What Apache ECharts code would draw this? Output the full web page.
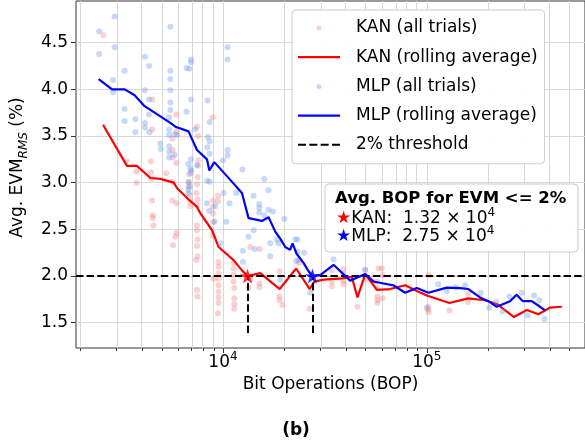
<!DOCTYPE html>
<html>
<head>
<meta charset="utf-8">
<script src="https://cdn.jsdelivr.net/npm/echarts@6/dist/echarts.min.js"></script>
<style>
  html, body { margin: 0; padding: 0; background: #fff; }
  #chart { width: 585px; height: 444px; }
</style>
</head>
<body>
<div id="chart"></div>
<script>
// KAN trials (BOP, avg EVM %)
var kanTrialBop = [2590, 3360, 3760, 3770, 4440, 4440, 4500, 4490, 4430, 4500, 4530, 4530, 4560,
  5260, 5660, 5660, 5660, 5660, 5640, 5900, 5900, 5900, 5920, 5920, 5850, 5690,
  6810, 6810, 6780, 6860, 6920, 6920, 7440, 7540, 7560, 7540, 7510, 7460, 7420, 7510, 7460, 7460, 7460, 7510, 7460, 7510, 7400, 7460, 7510,
  8910, 8930, 8930, 8930, 8960, 8890, 9000, 9450, 9450, 9510, 9510, 9510, 9510, 9510, 9510, 9510, 9510, 9450,
  11270, 11270, 11270, 11270, 11360, 11360, 11360, 11360, 13600, 13350, 13610, 15120, 15120, 15120,
  18940, 18940, 18940, 19600, 23570, 26550, 34200, 34200, 34200, 39010, 39010, 39010, 39010, 45690, 49860, 50430,
  56930, 56930, 57290, 57290, 57290, 57970, 60200, 60640, 60640, 101800, 101800, 101800, 101800, 129100, 159400, 158700];
var kanTrialEvm = [4.58, 3.23, 3.12, 3.00, 3.11, 3.04, 3.89, 3.57, 3.23, 2.81, 2.65, 2.62, 2.54,
  3.10, 3.47, 3.35, 3.27, 3.01, 2.81, 3.73, 3.55, 3.21, 2.78, 2.46, 2.42, 2.33,
  3.09, 3.00, 2.96, 2.87, 2.80, 2.75, 3.60, 3.50, 3.24, 3.18, 3.06, 2.98, 2.89, 2.82, 2.76, 2.54, 2.49, 2.39, 2.32, 2.21, 2.17, 1.85, 1.78,
  3.70, 2.81, 2.74, 2.67, 2.58, 2.43, 1.97, 2.86, 2.80, 2.15, 2.10, 2.03, 1.97, 1.90, 1.83, 1.77, 1.71, 1.60,
  2.14, 2.08, 2.01, 1.94, 1.87, 1.76, 1.70, 1.65, 2.31, 1.87, 1.96, 2.29, 1.92, 1.88,
  2.05, 1.78, 1.74, 1.69, 2.14, 1.65, 2.06, 1.94, 1.89, 2.07, 2.02, 1.95, 1.91, 1.67, 2.06, 1.97,
  1.94, 1.87, 1.78, 1.74, 1.71, 2.08, 2.08, 2.01, 1.76, 2.01, 1.67, 1.64, 1.61, 1.63, 1.81, 1.72];

// MLP trials
var mlpTrialBop = [2470, 2470, 2940, 2940, 2890, 2890, 3290, 3290, 3290, 3720, 3720,
  4140, 4140, 4140, 4140, 4340, 4340, 4340, 4350, 4930, 4960,
  5520, 5520, 5520, 5520, 5520, 5520, 5450, 5450, 5450, 5450, 5450, 5450, 5790, 5790, 5960,
  6630, 6970, 6970, 6840, 6970, 6630, 7320, 6780, 6920, 6970, 7460, 6970, 6970, 6780, 6860, 6780, 6780,
  8400, 8600, 8440, 8600, 8380, 8600, 8380, 8600, 8350, 8570, 9170, 9100,
  10530, 10530, 10000, 10530, 10530, 10070, 10770, 10380, 9700, 11620, 12470,
  14120, 15060, 15060, 15060, 15940, 15940, 16730, 16730, 14150, 13350, 12530, 12530, 14320,
  17050, 17050, 17570, 19980, 18740, 18400, 23200, 23200, 25040, 22860, 19100, 26800, 23500, 22600,
  34850, 49860, 100000, 113600, 125300, 138800, 154100, 183800, 202000, 218700, 235300, 254100,
  292300, 311200, 335700, 356500, 377200];
var mlpTrialEvm = [4.62, 4.38, 4.78, 4.45, 4.10, 3.97, 4.20, 3.79, 3.66, 3.68, 3.54,
  4.35, 3.99, 3.64, 3.59, 4.25, 3.89, 3.73, 3.54, 3.42, 3.36,
  4.67, 4.20, 4.11, 3.99, 3.86, 3.78, 3.70, 3.57, 3.51, 3.39, 3.33, 3.27, 3.30, 3.52, 3.51,
  4.23, 4.32, 4.29, 4.22, 3.89, 3.76, 3.57, 3.20, 3.15, 3.25, 3.19, 3.13, 3.10, 3.01, 2.96, 2.93, 2.89,
  3.88, 3.65, 3.49, 3.44, 3.38, 3.31, 3.02, 3.01, 2.78, 2.70, 2.75, 2.58,
  4.45, 4.32, 3.24, 3.35, 3.29, 2.89, 2.78, 2.58, 2.35, 2.89, 3.14,
  2.86, 2.77, 2.73, 2.68, 3.04, 2.65, 2.92, 2.71, 2.49, 2.42, 2.27, 2.15, 2.29,
  2.21, 2.35, 2.69, 2.61, 2.35, 2.39, 2.39, 2.26, 2.25, 2.16, 1.96, 1.82, 2.17, 2.39,
  2.18, 2.07, 1.66, 1.91, 1.84, 1.88, 1.90, 1.82, 1.66, 1.72, 1.62, 1.78,
  1.82, 1.58, 1.79, 1.74, 1.54];

// rolling averages
var kanAvgBop = [2580, 3380, 3780, 4410, 4930, 5730, 5960, 6780, 7460, 7750, 8840, 9520, 11270, 12390, 13200,
  15240, 18980, 22850, 26650, 28050, 31100, 38450, 42860, 45690, 49860, 56930, 66130, 78270, 89240,
  100000, 129100, 159400, 192900, 220300, 267800, 309300, 352500, 401200, 459200];
var kanAvgEvm = [3.62, 3.18, 3.18, 3.05, 3.04, 3.00, 2.94, 2.82, 2.74, 2.67, 2.49, 2.31, 2.17, 2.06, 2.00,
  2.03, 1.86, 2.08, 1.86, 1.94, 1.96, 1.975, 1.99, 1.77, 2.02, 1.85, 1.86, 1.90, 1.84,
  1.79, 1.71, 1.76, 1.74, 1.70, 1.56, 1.635, 1.59, 1.66, 1.67];
var mlpAvgBop = [2455, 2858, 3294, 3674, 4127, 4930, 5516, 5840, 6780, 7455, 8349, 8570, 9065, 10860, 12390,
  13350, 15530, 16740, 18050, 19100, 20200, 21350, 21950, 22950, 24840, 26300, 27500, 29990, 34850,
  42050, 49860, 54840, 57970, 68500, 78270, 89240, 101800, 125300, 145600, 159900, 182400, 200400,
  220300, 256000, 276000, 295600, 327200, 359300, 380300];
var mlpAvgEvm = [4.11, 4.00, 4.00, 3.94, 3.82, 3.71, 3.64, 3.60, 3.55, 3.35, 3.25, 3.13, 3.22, 3.03, 2.89,
  2.62, 2.59, 2.63, 2.475, 2.40, 2.31, 2.28, 2.35, 2.24, 2.14, 2.05, 2.00, 2.01, 2.12,
  1.95, 2.02, 1.94, 1.93, 1.90, 1.82, 1.87, 1.82, 1.875, 1.87, 1.86, 1.77, 1.73,
  1.67, 1.73, 1.80, 1.73, 1.73, 1.67, 1.63];

var threshold = 2.0;
var kanStarBop = 13200;
var mlpStarBop = 27500;
var vlineBottom = 1.39;

var yTicks = [1.5, 2.0, 2.5, 3.0, 3.5, 4.0, 4.5];
var xTickExps = [4, 5];
var minorBop = [2000, 3000, 4000, 5000, 6000, 7000, 8000, 9000,
  20000, 30000, 40000, 50000, 60000, 70000, 80000, 90000,
  200000, 300000, 400000, 500000];

var xMin = 3.279, xMax = 5.776;   // log10(BOP)
var yMin = 1.228, yMax = 4.947;

var FONT = 'DejaVu Sans';
var GRID_COLOR = '#d8d8d8';
var BOX_FILL = 'rgba(255,255,255,0.96)';

function pairs(xs, ys) {
  return xs.map(function (b, i) { return [Math.log10(b), ys[i]]; });
}
function sci(b) {
  var e = Math.floor(Math.log10(b));
  return { m: (b / Math.pow(10, e)).toFixed(2), e: e };
}

var starPath = 'path://M50,0L61.8,35.1L98.9,35.1L68.9,56.8L80.3,91.9L50,70.2L19.7,91.9L31.1,56.8L1.1,35.1L38.2,35.1Z';
var kanS = sci(kanStarBop), mlpS = sci(mlpStarBop);

var chart = echarts.init(document.getElementById('chart'));
var option = {
  animation: false,
  textStyle: { fontFamily: FONT },
  grid: { left: 76, right: 0, top: 1, bottom: 96, show: true, borderColor: '#333', borderWidth: 1 },
  xAxis: {
    type: 'value', min: xMin, max: xMax,
    name: 'Bit Operations (BOP)', nameLocation: 'middle', nameGap: 28,
    nameTextStyle: { fontSize: 17, color: '#000', fontFamily: FONT },
    axisLine: { show: false },
    axisTick: { show: true, length: 5, lineStyle: { color: '#333' }, customValues: xTickExps },
    axisLabel: {
      customValues: xTickExps, margin: 3,
      formatter: function (v) { return '{b|10}{s|' + v + '}'; },
      rich: {
        b: { fontSize: 17, color: '#000', fontFamily: FONT, lineHeight: 24 },
        s: { fontSize: 12, color: '#000', fontFamily: FONT, lineHeight: 12, verticalAlign: 'top' }
      }
    },
    splitLine: { show: true, lineStyle: { color: GRID_COLOR, width: 1 } }
  },
  yAxis: {
    type: 'value', min: yMin, max: yMax,
    name: '{a|Avg. EVM}{s|RMS}{a| (%)}', nameLocation: 'middle', nameGap: 40, nameRotate: 90,
    nameTextStyle: {
      padding: [0, 0, 0, 14],
      rich: {
        a: { fontSize: 17, color: '#000', fontFamily: FONT, lineHeight: 24 },
        s: { fontSize: 12, color: '#000', fontFamily: FONT, fontStyle: 'italic', lineHeight: 12, verticalAlign: 'bottom' }
      }
    },
    axisLine: { show: false },
    axisTick: { show: true, length: 5, lineStyle: { color: '#333' }, customValues: yTicks },
    axisLabel: {
      customValues: yTicks, margin: 8, fontSize: 17, color: '#000', fontFamily: FONT,
      formatter: function (v) { return v.toFixed(1); }
    },
    splitLine: { show: true, lineStyle: { color: GRID_COLOR, width: 1 } }
  },
  legend: {
    orient: 'vertical', left: 292, top: 10, padding: [8, 7, 9, 6], z: 20,
    itemWidth: 42, itemHeight: 5, itemGap: 9.2, selectedMode: false,
    backgroundColor: BOX_FILL, borderColor: '#cccccc', borderWidth: 1, borderRadius: 4,
    textStyle: { fontSize: 17, color: '#000', fontFamily: FONT, lineHeight: 20, padding: [0, 0, 0, 11] },
    data: [
      { name: 'KAN (all trials)', icon: 'circle' },
      { name: 'KAN (rolling average)', icon: 'path://M0,0H42V2.3H0Z' },
      { name: 'MLP (all trials)', icon: 'circle' },
      { name: 'MLP (rolling average)', icon: 'path://M0,0H42V2.3H0Z' },
      { name: '2% threshold', icon: 'path://M0,0h8v2h-8zM11.3,0h8v2h-8zM22.6,0h8v2h-8zM33.9,0h8v2h-8z' }
    ]
  },
  graphic: [
    { type: 'rect', x: 325, y: 184, z: 100, shape: { width: 253, height: 68, r: 4 },
      style: { fill: BOX_FILL, stroke: '#cccccc', lineWidth: 1 } },
    { type: 'text', x: 335, y: 199, z: 101,
      style: { text: 'Avg. BOP for EVM <= 2%', font: 'bold 16.5px "DejaVu Sans"', fill: '#000', verticalAlign: 'middle' } },
    { type: 'text', x: 336, y: 219, z: 101,
      style: {
        text: '{st|★}{t|KAN:  ' + kanS.m + ' × 10}{sup|' + kanS.e + '}', verticalAlign: 'middle',
        rich: {
          st: { fill: '#ff0000', fontSize: 17, fontFamily: FONT, lineHeight: 24 },
          t: { fill: '#000', fontSize: 17, fontFamily: FONT, lineHeight: 24 },
          sup: { fill: '#000', fontSize: 12, fontFamily: FONT, lineHeight: 12, verticalAlign: 'top' }
        }
      } },
    { type: 'text', x: 336, y: 237, z: 101,
      style: {
        text: '{st|★}{t|MLP:  ' + mlpS.m + ' × 10}{sup|' + mlpS.e + '}', verticalAlign: 'middle',
        rich: {
          st: { fill: '#0000ff', fontSize: 17, fontFamily: FONT, lineHeight: 24 },
          t: { fill: '#000', fontSize: 17, fontFamily: FONT, lineHeight: 24 },
          sup: { fill: '#000', fontSize: 12, fontFamily: FONT, lineHeight: 12, verticalAlign: 'top' }
        }
      } },
    { type: 'text', x: 296, y: 431, z: 101,
      style: { text: '(b)', font: 'bold 17px "DejaVu Sans"', fill: '#000', align: 'center', verticalAlign: 'middle' } }
  ],
  series: [
    {
      // minor log ticks below the axis + minor vertical grid lines
      name: 'minor grid', type: 'custom', silent: true, z: 1,
      data: minorBop.map(function (b) { return [Math.log10(b), yMin]; }),
      renderItem: function (params, api) {
        var bot = api.coord([api.value(0), yMin]);
        var px = Math.round(bot[0]) + 0.5;
        return { type: 'line', shape: { x1: px, y1: bot[1], x2: px, y2: bot[1] + 3 }, style: { stroke: '#333', lineWidth: 1 } };
      },
      markLine: {
        silent: true, symbol: ['none', 'none'], label: { show: false }, z: 1,
        lineStyle: { color: GRID_COLOR, width: 1, type: 'solid' },
        data: minorBop.map(function (b) { return { xAxis: Math.log10(b) }; })
      }
    },
    {
      name: 'KAN (all trials)', type: 'scatter', symbolSize: 6, z: 2,
      itemStyle: { color: 'rgba(240,128,128,0.45)' },
      data: pairs(kanTrialBop, kanTrialEvm)
    },
    {
      name: 'KAN (rolling average)', type: 'line', symbol: 'none', z: 3,
      itemStyle: { color: '#ff0000' }, lineStyle: { color: '#ff0000', width: 2.2 },
      data: pairs(kanAvgBop, kanAvgEvm)
    },
    {
      name: 'MLP (all trials)', type: 'scatter', symbolSize: 6, z: 4,
      itemStyle: { color: 'rgba(100,149,237,0.45)' },
      data: pairs(mlpTrialBop, mlpTrialEvm)
    },
    {
      name: 'MLP (rolling average)', type: 'line', symbol: 'none', z: 5,
      itemStyle: { color: '#0000ff' }, lineStyle: { color: '#0000ff', width: 2.2 },
      data: pairs(mlpAvgBop, mlpAvgEvm)
    },
    {
      name: '2% threshold', type: 'line', symbol: 'none', z: 6, data: [],
      itemStyle: { color: '#000' }, lineStyle: { color: '#000', width: 2, type: [7.4, 3.2] },
      markLine: {
        silent: true, symbol: ['none', 'none'], label: { show: false },
        lineStyle: { color: '#000', width: 2, type: [7.4, 3.2] },
        data: [
          { yAxis: threshold },
          [{ coord: [Math.log10(kanStarBop), vlineBottom] }, { coord: [Math.log10(kanStarBop), threshold] }],
          [{ coord: [Math.log10(mlpStarBop), vlineBottom] }, { coord: [Math.log10(mlpStarBop), threshold] }]
        ]
      }
    },
    {
      name: 'stars', type: 'scatter', symbol: starPath, symbolSize: 15, z: 7,
      data: [
        { value: [Math.log10(kanStarBop), threshold], itemStyle: { color: '#ff0000' } },
        { value: [Math.log10(mlpStarBop), threshold], itemStyle: { color: '#0000ff' } }
      ]
    }
  ]
};
chart.setOption(option);
</script>
</body>
</html>
